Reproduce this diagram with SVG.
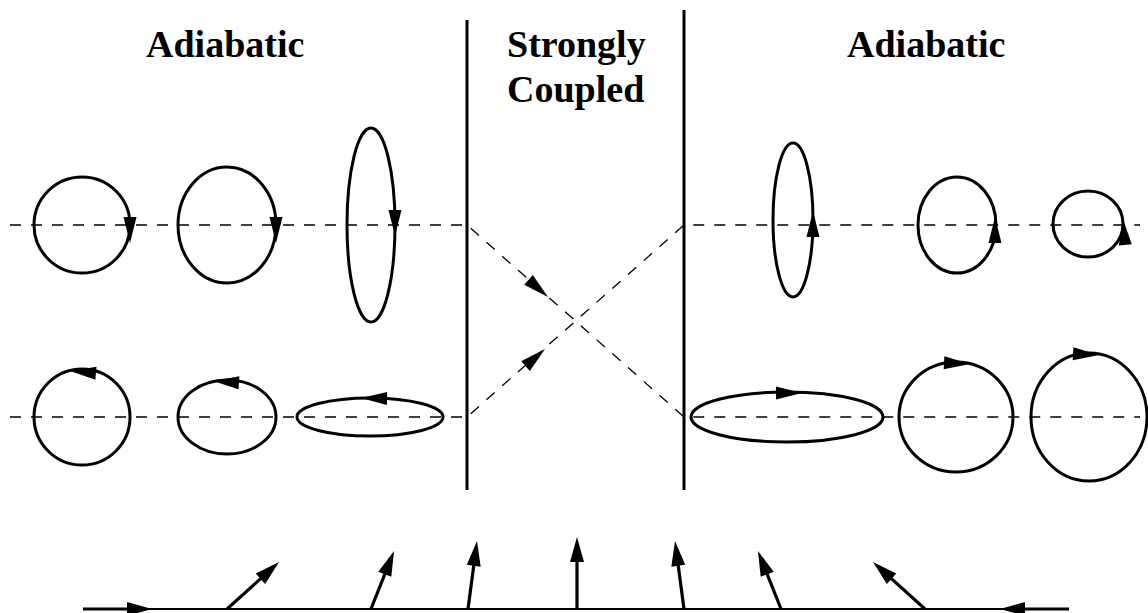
<svg xmlns="http://www.w3.org/2000/svg" xmlns:xlink="http://www.w3.org/1999/xlink" width="1148" height="613" viewBox="0 0 1148 613">
<style>
.lbl{font-family:"Liberation Serif","Times New Roman",serif;font-weight:bold;font-size:38px;fill:#000}
.orb{fill:none;stroke:#000;stroke-width:3}
.dash{fill:none;stroke:#000;stroke-width:1.3;stroke-dasharray:11 10}
.wall{stroke:#000;stroke-width:3}
.vec{stroke:#000;stroke-width:3.2;fill:none}
.base{stroke:#000;stroke-width:2}
</style>
<defs>
<path id="ah" d="M0,0 L-26,-6.5 L-26,6.5 Z" fill="#000"/>
<path id="bh" d="M0,0 L-25,-7 L-25,7 Z" fill="#000"/>
</defs>
<rect width="1148" height="613" fill="#fff"/>
<g id="labels">
<text class="lbl" x="146" y="57">Adiabatic</text>
<text class="lbl" x="507" y="57">Strongly</text>
<text class="lbl" x="507" y="102">Coupled</text>
<text class="lbl" x="847" y="57">Adiabatic</text>
</g>
<g id="connectors">
<polyline class="dash" points="10,225 467,225 684,417 1140,417"/>
<polyline class="dash" points="10,417 467,417 684,225 1140,225"/>
<use href="#ah" transform="translate(548,297) rotate(41.5)"/>
<use href="#ah" transform="translate(545,349) rotate(-41.5)"/>
</g>
<g id="walls">
<line class="wall" x1="467" y1="20" x2="467" y2="490"/>
<line class="wall" x1="684" y1="10" x2="684" y2="490"/>
</g>
<g id="orbit-l1"><ellipse class="orb" cx="82" cy="225" rx="48" ry="48"/><use href="#ah" transform="translate(130,243) rotate(90)"/></g>
<g id="orbit-l2"><ellipse class="orb" cx="227" cy="225" rx="49" ry="58"/><use href="#ah" transform="translate(276,243) rotate(90)"/></g>
<g id="orbit-l3"><ellipse class="orb" cx="371" cy="225" rx="24" ry="97"/><use href="#ah" transform="translate(395,236) rotate(90)"/></g>
<g id="orbit-l4"><ellipse class="orb" cx="82" cy="417" rx="48" ry="48"/><use href="#ah" transform="translate(70,371) rotate(185)"/></g>
<g id="orbit-l5"><ellipse class="orb" cx="227" cy="417" rx="49" ry="37"/><use href="#ah" transform="translate(213,381) rotate(184)"/></g>
<g id="orbit-l6"><ellipse class="orb" cx="370" cy="417" rx="73" ry="19"/><use href="#ah" transform="translate(361,398) rotate(181)"/></g>
<g id="orbit-r1"><ellipse class="orb" cx="793" cy="220" rx="20" ry="77"/><use href="#ah" transform="translate(813,211) rotate(-90)"/></g>
<g id="orbit-r2"><ellipse class="orb" cx="957" cy="225" rx="39" ry="48"/><use href="#ah" transform="translate(995,217) rotate(-90)"/></g>
<g id="orbit-r3"><ellipse class="orb" cx="1088" cy="224" rx="35" ry="33"/><use href="#ah" transform="translate(1123,219) rotate(-95)"/></g>
<g id="orbit-r4"><ellipse class="orb" cx="787" cy="417" rx="96" ry="25"/><use href="#ah" transform="translate(802,393) rotate(0)"/></g>
<g id="orbit-r5"><ellipse class="orb" cx="956" cy="417" rx="57" ry="55"/><use href="#ah" transform="translate(970,364) rotate(3)"/></g>
<g id="orbit-r6"><ellipse class="orb" cx="1089" cy="417" rx="58" ry="64"/><use href="#ah" transform="translate(1099,355) rotate(3)"/></g>
<g id="field">
<line class="base" x1="83" y1="609" x2="1069" y2="609"/>
<line class="vec" x1="83" y1="609" x2="132" y2="609"/><use href="#bh" transform="translate(152,609)"/>
<line class="vec" x1="1069" y1="609" x2="1020" y2="609"/><use href="#bh" transform="translate(1000,609) rotate(180)"/>
<line class="vec" x1="227" y1="609" x2="264.2" y2="575.4"/><use href="#bh" transform="translate(279,562) rotate(-42.1)"/>
<line class="vec" x1="371" y1="609" x2="386.6" y2="569.6"/><use href="#bh" transform="translate(394,551) rotate(-68.4)"/>
<line class="vec" x1="468" y1="609" x2="474.4" y2="560.8"/><use href="#bh" transform="translate(477,541) rotate(-82.5)"/>
<line class="vec" x1="577" y1="609" x2="577" y2="557"/><use href="#bh" transform="translate(577,537) rotate(-90)"/>
<line class="vec" x1="684" y1="609" x2="677.6" y2="560.8"/><use href="#bh" transform="translate(675,541) rotate(-97.5)"/>
<line class="vec" x1="781" y1="609" x2="765.4" y2="569.6"/><use href="#bh" transform="translate(758,551) rotate(-111.6)"/>
<line class="vec" x1="925" y1="609" x2="887.8" y2="575.4"/><use href="#bh" transform="translate(873,562) rotate(-137.9)"/>
</g>
</svg>
